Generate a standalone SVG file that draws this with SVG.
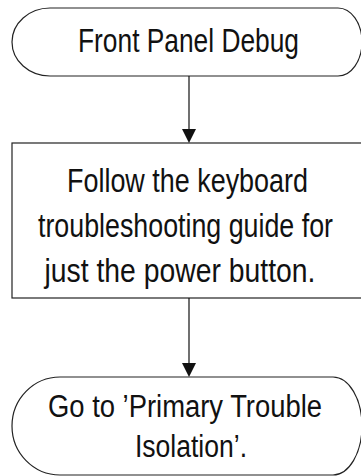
<svg xmlns="http://www.w3.org/2000/svg" width="361" height="476" viewBox="0 0 361 476">
<style>
.s{fill:#fff;stroke:#222;stroke-width:1.2}
.t{font-family:"Liberation Sans",Arial,sans-serif;font-size:33px;fill:#111;text-anchor:middle}
.b{font-size:31px}
.c{stroke:#111;stroke-width:1.2;fill:none}
.h{fill:#111}
</style>
<rect width="361" height="476" fill="#fff"/>
<g id="start">
<path class="s" d="M50,8 H338 A24,34 0 0 1 338,76 H50 A38,34 0 0 1 50,8 Z"/>
<text class="t" x="188.5" y="52" textLength="221" lengthAdjust="spacingAndGlyphs">Front Panel Debug</text>
</g>
<g id="follow">
<rect class="s" x="12" y="143" width="354" height="155"/>
<text class="t" x="187.5" y="192" textLength="241" lengthAdjust="spacingAndGlyphs">Follow the keyboard</text>
<text class="t" x="185.5" y="237" textLength="295" lengthAdjust="spacingAndGlyphs">troubleshooting guide for</text>
<text class="t" x="180" y="282" textLength="271" lengthAdjust="spacingAndGlyphs">just the power button.</text>
</g>
<g id="goto">
<path class="s" d="M60,377 H333 A29,49 0 0 1 333,475 H60 A48,49 0 0 1 60,377 Z"/>
<text class="t b" x="185" y="417" textLength="274" lengthAdjust="spacingAndGlyphs">Go to ’Primary Trouble</text>
<text class="t b" x="191" y="457" textLength="112" lengthAdjust="spacingAndGlyphs">Isolation’.</text>
</g>
<g id="connectors">
<line class="c" x1="189" y1="76" x2="189" y2="131"/>
<polygon class="h" points="182,129 196,129 189,143"/>
<line class="c" x1="189" y1="298" x2="189" y2="365"/>
<polygon class="h" points="182,363 196,363 189,377"/>
</g>
</svg>
